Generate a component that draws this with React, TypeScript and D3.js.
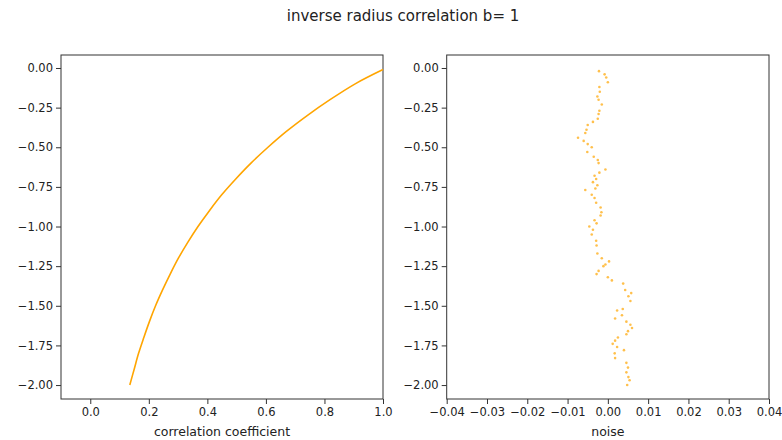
import React, { useEffect, useRef } from "react";
import * as d3 from "d3";

// left panel: radius curve
const curveY = [-2.0, -1.9, -1.8, -1.7, -1.6, -1.5, -1.4, -1.3, -1.2, -1.1, -1.0, -0.9, -0.8, -0.7, -0.6, -0.5, -0.4, -0.3, -0.2, -0.1, -0.01];
const curveX = [0.135, 0.150, 0.165, 0.183, 0.202, 0.223, 0.247, 0.273, 0.301, 0.333, 0.368, 0.407, 0.449, 0.497, 0.549, 0.607, 0.670, 0.741, 0.819, 0.905, 1.0];

// right panel: noise scatter
const noiseY = [
  -0.02, -0.04, -0.06, -0.09, -0.12, -0.15, -0.18, -0.20, -0.23, -0.27,
  -0.29, -0.32, -0.34, -0.36, -0.39, -0.41, -0.44, -0.46, -0.48, -0.50,
  -0.53, -0.56, -0.58, -0.60, -0.64, -0.66, -0.68, -0.70, -0.72, -0.74,
  -0.76, -0.77, -0.80, -0.82, -0.85, -0.88, -0.91, -0.93, -0.96, -0.98,
  -1.00, -1.02, -1.05, -1.09, -1.12, -1.17, -1.20, -1.22, -1.24, -1.25,
  -1.28, -1.30, -1.32, -1.34, -1.36, -1.40, -1.42, -1.44, -1.47, -1.52,
  -1.53, -1.56, -1.58, -1.60, -1.62, -1.64, -1.66, -1.68, -1.70, -1.72,
  -1.74, -1.76, -1.78, -1.80, -1.83, -1.86, -1.89, -1.92, -1.95, -1.97,
  -2.00,
];
const noiseX = [
  -0.0022, -0.0008, -0.0004, 0.0000, -0.0021, -0.0020, -0.0026, -0.0023, -0.0015, -0.0021,
  -0.0023, -0.0025, -0.0037, -0.0050, -0.0053, -0.0056, -0.0074, -0.0060, -0.0050, -0.0040,
  -0.0051, -0.0035, -0.0025, -0.0023, -0.0006, -0.0021, -0.0033, -0.0029, -0.0037, -0.0026,
  -0.0031, -0.0056, -0.0040, -0.0033, -0.0029, -0.0018, -0.0016, -0.0018, -0.0033, -0.0028,
  -0.0046, -0.0037, -0.0040, -0.0029, -0.0028, -0.0026, -0.0015, 0.0003, -0.0006, -0.0011,
  -0.0023, -0.0028, 0.0000, 0.0010, 0.0038, 0.0043, 0.0058, 0.0051, 0.0056, 0.0037,
  0.0023, 0.0035, 0.0018, 0.0046, 0.0056, 0.0060, 0.0050, 0.0046, 0.0025, 0.0018,
  0.0012, 0.0023, 0.0040, 0.0017, 0.0018, 0.0046, 0.0050, 0.0046, 0.0051, 0.0054,
  0.0048,
];

const leftTicksX = [0.0, 0.2, 0.4, 0.6, 0.8, 1.0];
const rightTicksX = [-0.04, -0.03, -0.02, -0.01, 0.0, 0.01, 0.02, 0.03, 0.04];
const ticksY = [0.0, -0.25, -0.5, -0.75, -1.0, -1.25, -1.5, -1.75, -2.0];

const App = () => {
  const svgRef = useRef<SVGSVGElement>(null);

  useEffect(() => {
    document.body.style.margin = "0";
    const w = 782;
    const h = 440;
    const top = 55;
    const bottom = 399;
    const font = "DejaVu Sans, sans-serif";

    const svg = d3.select(svgRef.current).attr("width", w).attr("height", h);
    svg.selectAll("*").remove();
    svg.append("rect").attr("width", w).attr("height", h).attr("fill", "white");

    const yScale = d3.scaleLinear().domain([-2.088, 0.082]).range([bottom, top]);
    const fmt = (d: any) => d3.format(".2f")(d).replace("-", "\u2212");

    const panel = (x0: number, x1: number, xScale: any, xTicks: number[], xFmt: any, label: string) => {
      const g = svg.append("g");
      // axes
      const ax = g.append("g")
        .attr("transform", `translate(0, ${bottom})`)
        .call(d3.axisBottom(xScale).tickValues(xTicks).tickFormat(xFmt).tickSize(5).tickPadding(4));
      const ay = g.append("g")
        .attr("transform", `translate(${x0}, 0)`)
        .call(d3.axisLeft(yScale).tickValues(ticksY).tickFormat(fmt).tickSize(5).tickPadding(3));
      [ax, ay].forEach(a => {
        a.select(".domain").remove();
        a.selectAll("text").attr("font-family", font).attr("font-size", 11.5).attr("fill", "#222");
        a.selectAll("line").attr("stroke", "#333");
      });
      // spines
      g.append("rect")
        .attr("x", x0).attr("y", top)
        .attr("width", x1 - x0).attr("height", bottom - top)
        .attr("fill", "none").attr("stroke", "#333").attr("stroke-width", 1);
      g.append("text")
        .attr("x", (x0 + x1) / 2).attr("y", 436)
        .attr("text-anchor", "middle")
        .attr("font-family", font).attr("font-size", 12.5).attr("fill", "#222")
        .text(label);
      return g;
    };

    // left panel
    const xl = d3.scaleLinear().domain([-0.1, 1.0]).range([61, 383]);
    const gl = panel(61, 383, xl, leftTicksX, d3.format(".1f"), "correlation coefficient");
    const line = d3.line<number>()
      .x((_, i) => xl(curveX[i]))
      .y(d => yScale(d))
      .curve(d3.curveCatmullRom);
    gl.append("path")
      .attr("d", line(curveY))
      .attr("fill", "none")
      .attr("stroke", "orange")
      .attr("stroke-width", 1.6);

    // right panel
    const xr = d3.scaleLinear().domain([-0.04, 0.04]).range([446.7, 769]);
    const gr = panel(446.7, 769, xr, rightTicksX, fmt, "noise");
    gr.selectAll(".pt")
      .data(noiseY)
      .join("circle")
      .attr("class", "pt")
      .attr("cx", (_, i) => xr(noiseX[i]))
      .attr("cy", d => yScale(d))
      .attr("r", 1.3)
      .attr("fill", "orange")
      .attr("opacity", 0.7);

    svg.append("text")
      .attr("x", 403).attr("y", 21)
      .attr("text-anchor", "middle")
      .attr("font-family", font).attr("font-size", 15).attr("fill", "#222")
      .text("inverse radius correlation b= 1");
  }, []);

  return (
    <div>
      <svg ref={svgRef} style={{ display: "block" }}></svg>
    </div>
  );
};

export default App;
